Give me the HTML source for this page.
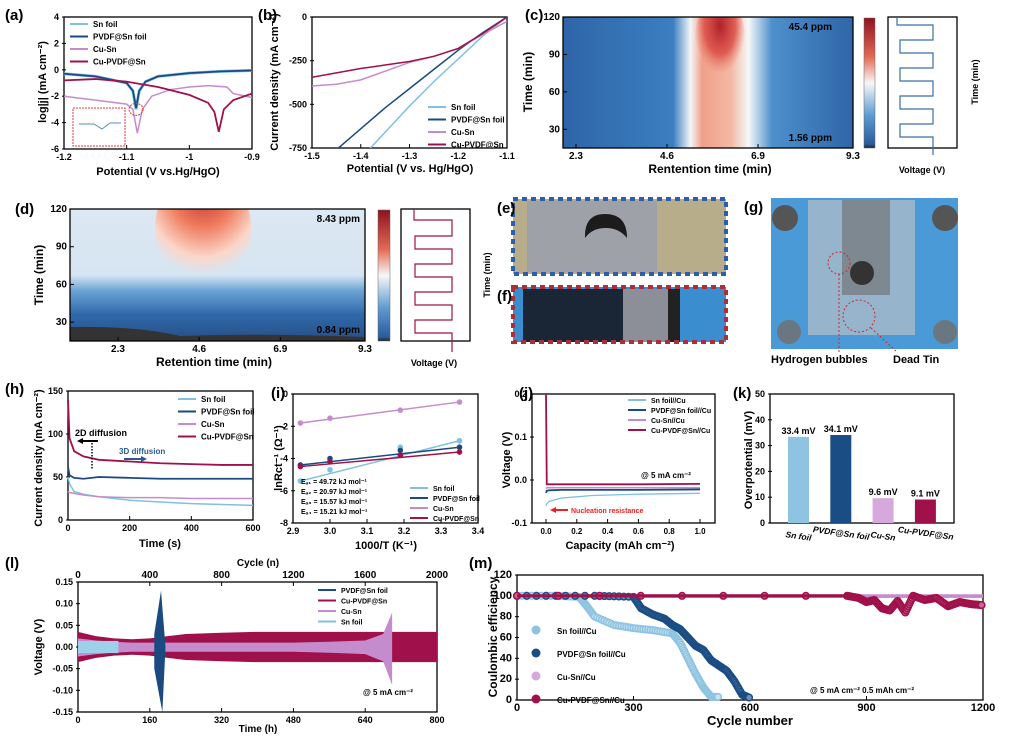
<!DOCTYPE html>
<html><head><meta charset="utf-8"><style>
body{margin:0;background:#fff}
svg{display:block;font-family:"Liberation Sans",sans-serif}
text{font-family:"Liberation Sans","Noto Sans CJK SC",sans-serif}
</style></head><body>
<svg id="s" width="1015" height="736" viewBox="0 0 1015 736" xmlns="http://www.w3.org/2000/svg">
<defs>
<linearGradient id="hc" x1="0" x2="1" y1="0" y2="0">
<stop offset="0" stop-color="#2e65a8"/><stop offset="0.38" stop-color="#3b7fc0"/><stop offset="0.44" stop-color="#f4f6f8"/><stop offset="0.48" stop-color="#f0a08a"/><stop offset="0.58" stop-color="#f3b9a5"/><stop offset="0.64" stop-color="#f6f8fa"/><stop offset="0.72" stop-color="#4e90cc"/><stop offset="1" stop-color="#2e65a8"/></linearGradient>
<radialGradient id="hcr" cx="0.5" cy="0.3" r="0.5"><stop offset="0" stop-color="#b01f2a"/><stop offset="0.6" stop-color="#d9483f" stop-opacity="0.8"/><stop offset="1" stop-color="#e97a66" stop-opacity="0"/></radialGradient>
<linearGradient id="hd" x1="0" x2="0" y1="0" y2="1"><stop offset="0" stop-color="#dce8f3"/><stop offset="0.5" stop-color="#d6e5f2"/><stop offset="0.62" stop-color="#6aa3d4"/><stop offset="0.8" stop-color="#2f68aa"/><stop offset="1" stop-color="#264f86"/></linearGradient>
<radialGradient id="hdr" cx="0.5" cy="0.15" r="0.75"><stop offset="0" stop-color="#b82a2c"/><stop offset="0.45" stop-color="#ef7a5c"/><stop offset="0.8" stop-color="#fbd6c8"/><stop offset="1" stop-color="#fbd6c8" stop-opacity="0"/></radialGradient>
<linearGradient id="cb" x1="0" x2="0" y1="0" y2="1"><stop offset="0" stop-color="#8e1220"/><stop offset="0.3" stop-color="#e36a55"/><stop offset="0.5" stop-color="#f7f7f7"/><stop offset="0.75" stop-color="#5d9bd1"/><stop offset="0.97" stop-color="#2a5b9c"/><stop offset="1" stop-color="#222"/></linearGradient>
<clipPath id="clc"><rect x="563" y="17" width="290" height="131"/></clipPath>
<clipPath id="cld"><rect x="70" y="209" width="295" height="132"/></clipPath>
</defs>
<g id="root"></g>
<g>
<rect x="513" y="199" width="213" height="75" fill="#b8ad8a"/><rect x="527" y="201" width="130" height="71" fill="#9ea2a8"/>
<path d="M585 236 q0 -22 20 -22 q22 0 22 24 q-8 -10 -21 -10 q-14 0 -21 10z" fill="#1c1c1c"/>
<rect x="513" y="199" width="213" height="75" fill="none" stroke="#2e5ea8" stroke-width="4" stroke-dasharray="5,4"/>
<text x="497" y="213" font-size="15" font-weight="bold">(e)</text></g>
<g>
<rect x="513" y="287" width="213" height="55" fill="#3a8ed0"/><rect x="523" y="289" width="100" height="53" fill="#1a2636"/><rect x="623" y="289" width="45" height="53" fill="#8c8f98"/><rect x="668" y="289" width="12" height="53" fill="#222"/>
<rect x="513" y="287" width="213" height="55" fill="none" stroke="#a8303a" stroke-width="4" stroke-dasharray="5,4"/>
<text x="497" y="301" font-size="15" font-weight="bold">(f)</text></g>
<g>
<rect x="771" y="198" width="187" height="151" fill="#4a9ad8"/><rect x="808" y="200" width="107" height="135" fill="#a9bccb" opacity="0.8"/><rect x="842" y="200" width="48" height="95" fill="#7d8891"/>
<circle cx="862" cy="273" r="12" fill="#333"/>
<circle cx="785" cy="218" r="13" fill="#555"/><circle cx="945" cy="218" r="13" fill="#555"/><circle cx="789" cy="332" r="12" fill="#6b7780"/><circle cx="945" cy="332" r="12" fill="#6b7780"/>
<circle cx="839" cy="263" r="11" fill="none" stroke="#d22" stroke-dasharray="2,2"/><circle cx="859" cy="316" r="16" fill="none" stroke="#d22" stroke-dasharray="2,2"/>
<path d="M839 274 V352 M871 328 L897 352" stroke="#d22" stroke-dasharray="2,2" fill="none"/>
<text x="744" y="212" font-size="15" font-weight="bold">(g)</text>
<text x="771" y="363" font-size="11" font-weight="bold">Hydrogen bubbles</text><text x="893" y="363" font-size="11" font-weight="bold">Dead Tin</text></g>
</svg>
<script>
// ---- data arrays ----
const aX=[-1.2,-1.15,-1.1,-1.09,-1.085,-1.08,-1.07,-1.05,-1.0,-0.95,-0.9];
const aSn=[-0.3,-0.5,-1.0,-1.6,-3.0,-1.6,-0.9,-0.5,-0.25,-0.12,-0.05];
const aPV=[-0.3,-0.5,-1.0,-1.6,-2.9,-1.6,-0.9,-0.5,-0.25,-0.12,-0.05];
const aCuX=[-1.2,-1.15,-1.1,-1.09,-1.083,-1.075,-1.06,-1.03,-1.0,-0.97,-0.94,-0.93,-0.92,-0.9];
const aCu=[-2.0,-2.3,-2.6,-3.0,-4.8,-3.0,-2.0,-1.5,-1.3,-1.2,-1.3,-1.8,-1.9,-2.1];
const aCPX=[-1.2,-1.15,-1.1,-1.05,-1.0,-0.97,-0.96,-0.953,-0.945,-0.93,-0.9];
const aCP=[-0.8,-0.7,-0.9,-1.3,-1.9,-2.5,-3.2,-4.7,-3.0,-2.3,-1.8];
const bX=[-1.5,-1.45,-1.4,-1.35,-1.3,-1.25,-1.2,-1.15,-1.1];
const bSn=[-1000,-950,-810,-660,-510,-370,-240,-110,0];
const bPV=[-880,-760,-640,-520,-410,-300,-190,-90,0];
const bCu=[-395,-385,-360,-310,-260,-225,-180,-100,-25];
const bCP=[-345,-320,-295,-275,-255,-225,-180,-95,0];
const hX=[0,5,20,50,100,200,300,400,500,600];
const hSn=[50,42,33,30,27,23,21,19,18,17];
const hPV=[62,52,49,48,50,49,48,48,48,48];
const hCu=[33,32,31,29,27,26,26,25,25,25];
const hCP=[140,95,80,74,70,68,66,65,64,64];
const iX=[2.92,3.0,3.19,3.35];
const iSn=[-5.4,-4.7,-3.3,-2.9];
const iPV=[-4.4,-4.0,-3.5,-3.3];
const iCu=[-1.8,-1.5,-1.0,-0.5];
const iCP=[-4.5,-4.2,-3.8,-3.6];
const jX=[0,0.005,0.02,0.1,0.3,0.6,1.0];
const jSn=[-0.06,-0.055,-0.05,-0.042,-0.036,-0.033,-0.031];
const jPV=[-0.03,-0.025,-0.024,-0.023,-0.023,-0.023,-0.022];
const jCu=[-0.02,-0.018,-0.018,-0.018,-0.018,-0.018,-0.018];
const jCP=[0.2,-0.01,-0.01,-0.01,-0.01,-0.01,-0.009];
const kCats=["Sn foil","PVDF@Sn foil","Cu-Sn","Cu-PVDF@Sn"];
const kVals=[33.4,34.1,9.6,9.1];
const kLabels=["33.4 mV","34.1 mV","9.6 mV","9.1 mV"];
const lT=[0,40,80,120,160,200,240,320,400,480,560,640,680,700,720,800];
const lCP=[0.035,0.025,0.02,0.018,0.02,0.025,0.03,0.033,0.035,0.035,0.035,0.035,0.035,0.035,0.035,0.035];
const lCu=[0.02,0.015,0.012,0.01,0.01,0.01,0.01,0.01,0.01,0.01,0.012,0.015,0.03,0.08,0.0,0];
const mSnX=[0,100,160,180,200,250,300,350,400,420,440,460,480,500,520];
const mSnY=[100,100,99,90,80,72,69,67,64,55,40,25,12,3,3];
const mPVX=[0,200,300,320,350,380,400,420,440,460,480,500,520,540,560,580,600];
const mPVY=[100,100,99,88,82,78,72,68,60,52,48,38,33,28,18,5,2];
const mCPX=[0,850,880,900,920,940,960,980,1000,1020,1050,1080,1110,1140,1170,1200];
const mCPY=[100,100,98,94,96,88,86,95,84,100,96,98,90,94,92,91];
const ticksA=[-1.2,-1.1,-1.0,-0.9], ticksAY=[-6,-4,-2,0,2,4];
const ticksB=[-1.5,-1.4,-1.3,-1.2,-1.1], ticksBY=[-750,-500,-250,0];

const NS="http://www.w3.org/2000/svg";
const root=document.getElementById('root');
function mk(tag,attrs,parent,txt){const e=document.createElementNS(NS,tag);for(const k in attrs)e.setAttribute(k,attrs[k]);if(txt!==undefined)e.textContent=txt;(parent||root).appendChild(e);return e;}
function scale(d0,d1,r0,r1){return v=>r0+(v-d0)/(d1-d0)*(r1-r0);}
function frame(x0,y0,x1,y1,name){const g=mk('g',{});
 mk('rect',{x:x0,y:y0,width:x1-x0,height:y1-y0,fill:'none',stroke:'#000','stroke-width':1.3},g);return g;}
function xt(g,sx,vals,y,labels,fs){vals.forEach((v,i)=>{const x=sx(v);mk('line',{x1:x,x2:x,y1:y,y2:y-4,stroke:'#000'},g);
 const t=mk('text',{x:x,y:y+11,'font-size':fs||9,'font-weight':'bold','text-anchor':'middle'},g,labels?labels[i]:String(v));});}
function yt(g,sy,vals,x,labels,fs){vals.forEach((v,i)=>{const y=sy(v);mk('line',{x1:x,x2:x+4,y1:y,y2:y,stroke:'#000'},g);
 const t=mk('text',{x:x-3,y:y+3,'font-size':fs||9,'font-weight':'bold','text-anchor':'end'},g,labels?labels[i]:String(v));});}
function line(g,sx,sy,xs,ys,col,w,name){const p=mk('polyline',{points:xs.map((x,i)=>sx(x)+','+sy(ys[i])).join(' '),fill:'none',stroke:col,'stroke-width':w||1.8},g);return p;}
function lab(x,y,t,fs,extra){const e=mk('text',Object.assign({x:x,y:y,'font-size':fs,'font-weight':'bold'},extra||{}),root,t);return e;}
function legend(g,x,y,items,dy,fs){items.forEach((it,i)=>{const l=mk('line',{x1:x,x2:x+18,y1:y+i*dy,y2:y+i*dy,stroke:it[1],'stroke-width':2},g);
 const t=mk('text',{x:x+23,y:y+i*dy+3,'font-size':fs||8,'font-weight':'bold'},g,it[0]);});}
const C={sn:'#7fc0e3',pv:'#1a4a80',cu:'#c48ccc',cp:'#a0104a'};
const L4=[["Sn foil",C.sn],["PVDF@Sn foil",C.pv],["Cu-Sn",C.cu],["Cu-PVDF@Sn",C.cp]];

// (a)
{const x0=64,x1=252,y0=17,y1=149,sx=scale(-1.2,-0.9,x0,x1),sy=scale(-6,4,y1,y0);const g=frame(x0,y0,x1,y1,'panel-a');
 xt(g,sx,ticksA,y1,null,9);yt(g,sy,ticksAY,x0-2);
 line(g,sx,sy,aCuX,aCu,C.cu,1.5,'series-cu-sn');line(g,sx,sy,aX,aSn,C.sn,3,'series-sn-foil');line(g,sx,sy,aX,aPV,C.pv,1.8,'series-pvdf-sn');line(g,sx,sy,aCPX,aCP,C.cp,1.8,'series-cu-pvdf-sn');
 legend(g,70,24,L4,12.5,8);
 mk('rect',{x:73,y:108,width:52,height:38,fill:'#fff',stroke:'#e33','stroke-dasharray':'2,1'},g);mk('path',{d:'M79 124 L94 124 L102 129 L110 123 L121 123',stroke:'#5a8fb8',fill:'none'},g);
 mk('ellipse',{cx:sx(-1.085),cy:sy(-3),rx:7,ry:6,fill:'none',stroke:'#e33','stroke-dasharray':'2,1'},g);
 lab(5,20,'(a)',15);lab(158,175,'Potential (V vs.Hg/HgO)',11,{'text-anchor':'middle'});lab(46,82,'log|j| (mA cm⁻²)',11,{transform:'rotate(-90 46 82)','text-anchor':'middle'});}
// (b)
{const x0=312,x1=507,y0=17,y1=148,sx=scale(-1.5,-1.1,x0,x1),sy=scale(-750,0,y1,y0);const g=frame(x0,y0,x1,y1,'panel-b');
 xt(g,sx,ticksB,y1,null,9);yt(g,sy,ticksBY,x0-2);
 const clip=mk('clipPath',{id:'cpb'},g);mk('rect',{x:x0,y:y0,width:x1-x0,height:y1-y0},clip);const gg=mk('g',{'clip-path':'url(#cpb)'},g);
 line(gg,sx,sy,bX,bSn,C.sn,1.5,'series-sn-foil');line(gg,sx,sy,bX,bPV,C.pv,1.5,'series-pvdf-sn');line(gg,sx,sy,bX,bCu,C.cu,1.5,'series-cu-sn');line(gg,sx,sy,bX,bCP,C.cp,1.5,'series-cu-pvdf-sn');
 legend(g,428,107,L4,12.5,8);
 lab(258,20,'(b)',15);lab(410,172,'Potential (V vs. Hg/HgO)',11,{'text-anchor':'middle'});lab(278,82,'Current density (mA cm⁻²)',11,{transform:'rotate(-90 278 82)','text-anchor':'middle'});}
// (c)
{const g=frame(563,17,853,148,'panel-c-heatmap');g.insertBefore(mk('rect',{x:563,y:17,width:290,height:131,fill:'url(#hc)'}),g.firstChild);
 g.insertBefore(mk('ellipse',{cx:720,cy:45,rx:26,ry:48,fill:'url(#hcr)','clip-path':'url(#clc)'}),g.children[1]);
 const sx=scale(2.3,9.3,576,853),sy=scale(15,120,148,17);xt(g,sx,[2.3,4.6,6.9,9.3],148,null,10);yt(g,sy,[30,60,90,120],563,null,10);
 lab(832,30,'45.4 ppm',10,{'text-anchor':'end'});lab(832,141,'1.56 ppm',10,{'text-anchor':'end'});
 lab(525,20,'(c)',15);lab(710,173,'Rentention time (min)',12,{'text-anchor':'middle'});lab(532,82,'Time (min)',12,{transform:'rotate(-90 532 82)','text-anchor':'middle'});
 mk('rect',{x:864,y:18,width:11,height:130,fill:'url(#cb)',stroke:'#666','stroke-width':0.5});
 const v=frame(888,17,957,148,'panel-c-voltage');mk('path',{d:'M897 17 V25 h36 v15 h-33 v13 h33 v15 h-33 v13 h33 v15 h-33 v13 h33 v15 h-33 v13 h33 v18',fill:'none',stroke:'#3a6fa8','stroke-width':1.2},v);
 lab(922,173,'Voltage (V)',9,{'text-anchor':'middle'});lab(978,82,'Time (min)',9,{transform:'rotate(-90 978 82)','text-anchor':'middle'});}
// (d)
{const g=frame(70,209,365,341,'panel-d-heatmap');g.insertBefore(mk('rect',{x:70,y:209,width:295,height:132,fill:'url(#hd)'}),g.firstChild);
 g.insertBefore(mk('ellipse',{cx:203,cy:228,rx:48,ry:58,fill:'url(#hdr)','clip-path':'url(#cld)'}),g.children[1]);
 g.insertBefore(mk('path',{d:'M70 327 Q140 326 180 336 Q260 333 365 337 V341 H70z',fill:'#333'}),g.children[2]);
 const sx=scale(2.3,9.3,118,365),sy=scale(15,120,341,209);xt(g,sx,[2.3,4.6,6.9,9.3],341,null,10);yt(g,sy,[30,60,90,120],70,null,10);
 lab(360,222,'8.43 ppm',10,{'text-anchor':'end'});lab(360,333,'0.84 ppm',10,{'text-anchor':'end'});
 lab(15,214,'(d)',15);lab(214,366,'Retention time (min)',12,{'text-anchor':'middle'});lab(43,275,'Time (min)',12,{transform:'rotate(-90 43 275)','text-anchor':'middle'});
 mk('rect',{x:378,y:210,width:12,height:131,fill:'url(#cb)',stroke:'#666','stroke-width':0.5});
 const v=frame(401,209,470,341,'panel-d-voltage');mk('path',{d:'M414 209 V220 h38 v16 h-37 v13 h37 v15 h-37 v13 h37 v15 h-37 v13 h37 v15 h-37 v13 h37 v19',fill:'none',stroke:'#a0104a','stroke-width':1.2},v);
 lab(434,366,'Voltage (V)',9,{'text-anchor':'middle'});lab(490,275,'Time (min)',9,{transform:'rotate(-90 490 275)','text-anchor':'middle'});}
// (h)
{const x0=68,x1=253,y0=391,y1=520,sx=scale(0,600,x0,x1),sy=scale(0,150,y1,y0);const g=frame(x0,y0,x1,y1,'panel-h');
 xt(g,sx,[0,200,400,600],y1);yt(g,sy,[0,50,100,150],x0-2);
 line(g,sx,sy,hX,hSn,C.sn,1.5,'series-sn-foil');line(g,sx,sy,hX,hCu,C.cu,1.5,'series-cu-sn');line(g,sx,sy,hX,hPV,C.pv,1.8,'series-pvdf-sn');line(g,sx,sy,hX,hCP,C.cp,1.8,'series-cu-pvdf-sn');
 legend(g,178,399,L4,12.5,8);lab(75,436,'2D diffusion',9);lab(119,454,'3D diffusion',8,{fill:'#2a5a90'});
 mk('path',{d:'M80 441 h18',stroke:'#000','stroke-width':2},g);mk('path',{d:'M77 441 l6 -3 v6z',fill:'#000'},g);mk('path',{d:'M92 443 v26',stroke:'#000','stroke-width':1.5,'stroke-dasharray':'1.5,1.5'},g);
 mk('path',{d:'M124 459 h20',stroke:'#2a5a90','stroke-width':2},g);mk('path',{d:'M147 459 l-6 -3 v6z',fill:'#2a5a90'},g);
 lab(5,394,'(h)',15);lab(160,547,'Time (s)',11,{'text-anchor':'middle'});lab(42,458,'Current density (mA cm⁻²)',11,{transform:'rotate(-90 42 458)','text-anchor':'middle'});}
// (i)
{const x0=293,x1=478,y0=394,y1=523,sx=scale(2.9,3.4,x0,x1),sy=scale(-8,0,y1,y0);const g=frame(x0,y0,x1,y1,'panel-i');
 xt(g,sx,[2.9,3.0,3.1,3.2,3.3,3.4],y1,['2.9','3.0','3.1','3.2','3.3','3.4']);yt(g,sy,[-8,-6,-4,-2,0],x0-2);
 [[iSn,C.sn,'sn'],[iPV,C.pv,'pvdf'],[iCu,C.cu,'cu'],[iCP,C.cp,'cupvdf']].forEach(s=>{line(g,sx,sy,[iX[0],iX[3]],[s[0][0],s[0][3]],s[1],1.5,'fit-'+s[2]);
  iX.forEach((x,i)=>{const c=mk('circle',{cx:sx(x),cy:sy(s[0][i]),r:2.8,fill:s[1]},g);});});
 ['Eₐ₁ = 49.72 kJ mol⁻¹','Eₐ₂ = 20.97 kJ mol⁻¹','Eₐ₃ = 15.57 kJ mol⁻¹','Eₐ₄ = 15.21 kJ mol⁻¹'].forEach((t,i)=>lab(301,484+i*10,t,7));
 legend(g,410,488,[["Sn foil",C.sn],["PVDF@Sn foil",C.pv],["Cu-Sn",C.cu],["Cu-PVDF@Sn",C.cp]],10,7);
 lab(271,398,'(i)',15);lab(386,549,'1000/T (K⁻¹)',11,{'text-anchor':'middle'});lab(282,458,'lnRct⁻¹ (Ω⁻¹)',11,{transform:'rotate(-90 282 458)','text-anchor':'middle'});}
// (j)
{const x0=532,x1=715,y0=394,y1=523,sx=scale(0,1,546,700),sy=scale(-0.1,0.2,y1,y0);const g=frame(x0,y0,x1,y1,'panel-j');
 xt(g,sx,[0,0.2,0.4,0.6,0.8,1.0],y1,['0.0','0.2','0.4','0.6','0.8','1.0'],8);yt(g,sy,[-0.1,0.0,0.1,0.2],x0-2,['-0.1','0.0','0.1','0.2']);
 line(g,sx,sy,jX,jSn,C.sn,1.3,'series-sn');line(g,sx,sy,jX,jPV,C.pv,1.8,'series-pvdf');line(g,sx,sy,jX,jCu,C.cu,1.5,'series-cu');line(g,sx,sy,jX,jCP,C.cp,1.8,'series-cupvdf');
 legend(g,628,400,[["Sn foil//Cu",C.sn],["PVDF@Sn foil//Cu",C.pv],["Cu-Sn//Cu",C.cu],["Cu-PVDF@Sn//Cu",C.cp]],10,7);
 lab(641,478,'@ 5 mA cm⁻²',8);mk('path',{d:'M554 510 h14',stroke:'#e22','stroke-width':2},g);mk('path',{d:'M550 510 l6 -3 v6z',fill:'#e22'},g);lab(571,513,'Nucleation resistance',7,{fill:'#e22'});
 lab(519,398,'(j)',15);lab(620,549,'Capacity (mAh cm⁻²)',11,{'text-anchor':'middle'});lab(510,460,'Voltage (V)',11,{transform:'rotate(-90 510 460)','text-anchor':'middle'});}
// (k)
{const x0=770,x1=954,y0=394,y1=523,sy=scale(0,50,y1,y0);const g=frame(x0,y0,x1,y1,'panel-k');yt(g,sy,[0,10,20,30,40,50],x0-2);
 const cols=['#8ec4e2','#1b4d85','#d7a8dc','#a0104a'],bw=21;
 kVals.forEach((v,i)=>{const bx=788+i*42.3;const r=mk('rect',{x:bx,y:sy(v),width:bw,height:y1-sy(v),fill:cols[i]},g);
  const t=mk('text',{x:bx+bw/2,y:sy(v)-3,'font-size':9,'font-weight':'bold','text-anchor':'middle'},g,kLabels[i]);
  const c=mk('text',{x:bx+bw/2,y:y1+13+(i%2?0:3),'font-size':8.5,'font-weight':'bold','font-style':'italic','text-anchor':'middle',transform:`rotate(8 ${bx+bw/2} ${y1+13})`},g,kCats[i]);});
 lab(733,398,'(k)',15);lab(752,460,'Overpotential (mV)',11,{transform:'rotate(-90 752 460)','text-anchor':'middle'});}
// (l)
{const x0=78,x1=437,y0=582,y1=712,sx=scale(0,800,x0,x1),sy=scale(-0.15,0.15,y1,y0);const g=frame(x0,y0,x1,y1,'panel-l');
 xt(g,sx,[0,160,320,480,640,800],y1);yt(g,sy,[-0.15,-0.1,-0.05,0,0.05,0.1,0.15],x0-2,['-0.15','-0.10','-0.05','0.00','0.05','0.10','0.15']);
 const top=lT.map((t,i)=>sx(t)+','+sy(lCP[i])).join(' '),bot=lT.slice().reverse().map((t,i)=>sx(t)+','+sy(-lCP[lCP.length-1-i])).join(' ');
 const band=mk('polygon',{points:top+' '+bot,fill:C.cp},g);
 const cut=lT.slice(0,14);const t2=cut.map((t,i)=>sx(t)+','+sy(lCu[i])).join(' '),b2=cut.slice().reverse().map((t,i)=>sx(t)+','+sy(-lCu[cut.length-1-i]*1.1)).join(' ');
 const band2=mk('polygon',{points:t2+' '+b2,fill:C.cu},g);
 mk('rect',{x:x0,y:sy(0.014),width:sx(90)-x0,height:sy(-0.014)-sy(0.014),fill:'#9fd0ea'},g);
 mk('path',{d:`M${sx(185)} ${sy(0.13)} L${sx(170)} ${sy(0.03)} L${sx(170)} ${sy(-0.05)} L${sx(188)} ${sy(-0.15)} L${sx(195)} ${sy(0)}Z`,fill:C.pv},g);
 legend(g,318,590,[["PVDF@Sn foil",C.pv],["Cu-PVDF@Sn",C.cp],["Cu-Sn",C.cu],["Sn foil",C.sn]],10.5,7);
 lab(363,695,'@ 5 mA cm⁻²',8);
 const sc=scale(0,2000,x0,x1);[0,400,800,1200,1600,2000].forEach(v=>{mk('line',{x1:sc(v),x2:sc(v),y1:y0,y2:y0+4,stroke:'#000'},g);lab(sc(v),578,String(v),10,{'text-anchor':'middle'});});
 lab(5,568,'(l)',15);lab(258,566,'Cycle (n)',10,{'text-anchor':'middle'});lab(258,732,'Time (h)',10,{'text-anchor':'middle'});lab(42,647,'Voltage (V)',11,{transform:'rotate(-90 42 647)','text-anchor':'middle'});}
// (m)
{const x0=517,x1=983,y0=575,y1=700,sx=scale(0,1200,x0,x1),sy=scale(0,120,y1,y0);const g=frame(x0,y0,x1,y1,'panel-m');
 xt(g,sx,[0,300,600,900,1200],y1,null,11);yt(g,sy,[0,20,40,60,80,100,120],x0-2,null,11);
 mk('rect',{x:x0,y:sy(101.5),width:x1-x0,height:sy(98)-sy(101.5),fill:C.cu},g);
 const dots=(xs,ys,col,fill,name)=>{for(let i=0;i<xs.length-1;i++){for(let k=0;k<8;k++){const x=xs[i]+(xs[i+1]-xs[i])*k/8,y=ys[i]+(ys[i+1]-ys[i])*k/8;const c=mk('circle',{cx:sx(x),cy:sy(y),r:3.3,fill:fill,stroke:col,'stroke-width':1.5},g);}}};
 dots(mSnX,mSnY,'#8ec4e2','#c8e3f2','point-sn');dots(mPVX,mPVY,'#1b4d85','#6f8fb3','point-pvdf');dots(mCPX,mCPY,'#a0104a','#c86a90','point-cupvdf');
 mk('rect',{x:x0,y:sy(101.5),width:sx(870)-x0,height:sy(98.5)-sy(101.5),fill:C.cp},g);
 [["Sn foil//Cu",'#8ec4e2'],["PVDF@Sn foil//Cu",'#1b4d85'],["Cu-Sn//Cu",'#d7a8dc'],["Cu-PVDF@Sn//Cu",'#a0104a']].forEach((it,i)=>{const y=630+i*23;const c=mk('circle',{cx:536,cy:y,r:4.5,fill:it[1]},g);lab(557,y+4,it[0],8);});
 lab(810,693,'@ 5 mA cm⁻²   0.5 mAh cm⁻²',8);
 lab(469,568,'(m)',15);lab(750,725,'Cycle number',13,{'text-anchor':'middle'});lab(497,637,'Coulombic efficiency',12,{transform:'rotate(-90 497 637)','text-anchor':'middle'});}
</script>
</body></html>
